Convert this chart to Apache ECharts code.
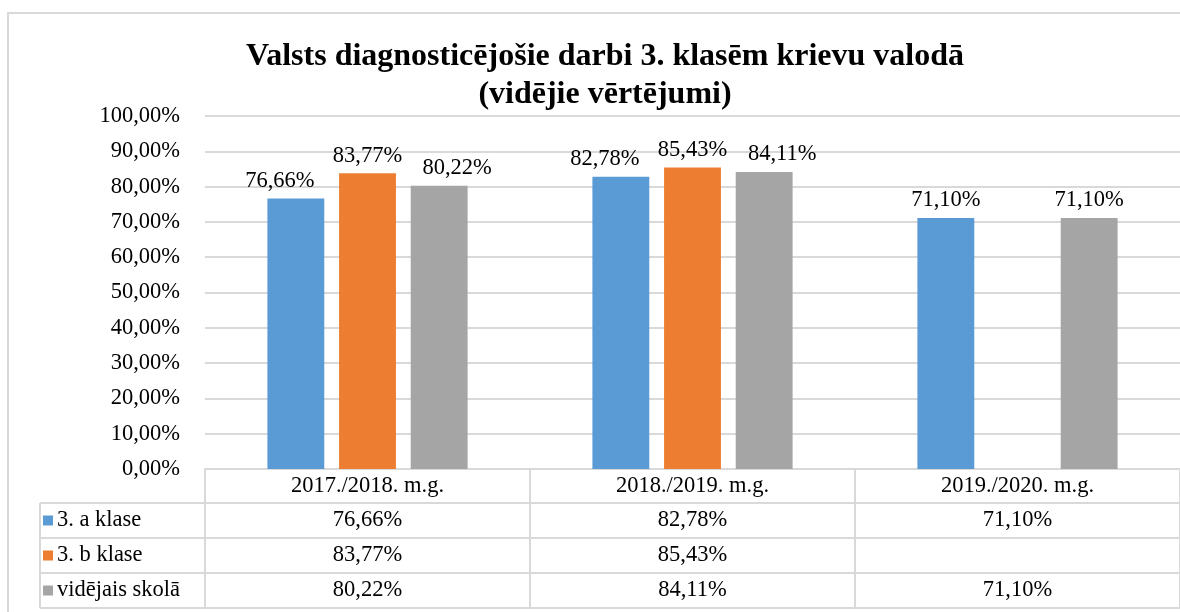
<!DOCTYPE html>
<html>
<head>
<meta charset="utf-8">
<script src="https://cdn.jsdelivr.net/npm/echarts@6/dist/echarts.min.js"></script>
<style>
  html, body { margin: 0; padding: 0; background: #fff; }
  #chart { width: 1180px; height: 612px; }
</style>
</head>
<body>
<div id="chart"></div>
<script>
const categories = ['2017./2018. m.g.', '2018./2019. m.g.', '2019./2020. m.g.']
const seriesNames = ['3. a klase', '3. b klase', 'vidējais skolā']
const classA = [76.66, 82.78, 71.10]
const classB = [83.77, 85.43, null]
const schoolAvg = [80.22, 84.11, 71.10]
const colors = ['#5b9bd5', '#ed7d31', '#a5a5a5']

const FONT = '"Liberation Serif", "Times New Roman", serif'
const GRID_LINE = '#d9d9d9'
const ROW_H = 35
const FS = 22.5

const fmt = v => (v == null ? '' : v.toFixed(2).replace('.', ',') + '%')

const chart = echarts.init(document.getElementById('chart'))

// side labels get pushed apart when all three bars are present (like Excel does)
function barSeries (name, data, color, shift) {
  return {
    name,
    type: 'bar',
    data,
    barWidth: '17.5%',
    barGap: '26%',
    itemStyle: { color },
    label: {
      show: true,
      position: 'top',
      distance: 6,
      color: '#000',
      fontFamily: FONT,
      fontSize: FS,
      formatter: p => fmt(p.value)
    },
    labelLayout: p => (classB[p.dataIndex] != null ? { dx: shift } : {})
  }
}

chart.setOption({
  animation: false,
  title: {
    text: 'Valsts diagnosticējošie darbi 3. klasēm krievu valodā\n(vidējie vērtējumi)',
    left: 600,
    textAlign: 'center',
    top: 33,
    textStyle: { fontFamily: FONT, fontWeight: 'bold', fontSize: 32, lineHeight: 38, color: '#000' }
  },
  grid: { left: 205, right: 0, top: 116, bottom: 143, containLabel: false },
  xAxis: {
    type: 'category',
    data: categories,
    axisLine: { show: true, lineStyle: { color: GRID_LINE, width: 2 } },
    axisTick: { show: true, length: ROW_H * 4 - 1, lineStyle: { color: GRID_LINE, width: 2 } },
    axisLabel: { margin: 6, color: '#000', fontFamily: FONT, fontSize: FS }
  },
  yAxis: {
    type: 'value',
    min: 0,
    max: 100,
    interval: 10,
    axisLine: { show: false },
    axisTick: { show: false },
    axisLabel: { margin: 25, color: '#000', fontFamily: FONT, fontSize: FS, formatter: v => fmt(v) },
    splitLine: { lineStyle: { color: GRID_LINE, width: 2 } }
  },
  series: [
    barSeries(seriesNames[0], classA, colors[0], -16),
    barSeries(seriesNames[1], classB, colors[1], 0),
    barSeries(seriesNames[2], schoolAvg, colors[2], 18)
  ]
})

// data table under the axis
function drawTable () {
  const rows = [classA, classB, schoolAvg]
  const x0 = chart.convertToPixel({ xAxisIndex: 0 }, 0)
  const x1 = chart.convertToPixel({ xAxisIndex: 0 }, 1)
  const band = x1 - x0
  const leftEdge = x0 - band / 2
  const rightEdge = leftEdge + band * categories.length
  const axisY = chart.convertToPixel({ yAxisIndex: 0 }, 0)
  const tableLeft = 40
  const lineStyle = { stroke: GRID_LINE, lineWidth: 2 }
  const els = []

  // outer chart border
  els.push({ type: 'rect', z: -1, shape: { x: 8, y: 13, width: 1300, height: 700 }, style: { fill: null, stroke: GRID_LINE, lineWidth: 2 } })

  for (let r = 0; r < rows.length; r++) {
    const top = axisY + ROW_H * (r + 1) - 1
    const mid = top + ROW_H / 2
    els.push({ type: 'line', shape: { x1: tableLeft, y1: top, x2: rightEdge, y2: top }, style: lineStyle })
    els.push({ type: 'rect', shape: { x: tableLeft + 3, y: mid - 5, width: 10, height: 10 }, style: { fill: colors[r] } })
    els.push({ type: 'text', x: tableLeft + 17, y: mid, style: { text: seriesNames[r], fill: '#000', font: FS + 'px ' + FONT, verticalAlign: 'middle', align: 'left' } })
    rows[r].forEach((v, i) => {
      els.push({ type: 'text', x: chart.convertToPixel({ xAxisIndex: 0 }, i), y: mid, style: { text: fmt(v), fill: '#000', font: FS + 'px ' + FONT, verticalAlign: 'middle', align: 'center' } })
    })
  }
  const bottom = axisY + ROW_H * 4 - 1
  els.push({ type: 'line', shape: { x1: tableLeft, y1: bottom, x2: rightEdge, y2: bottom }, style: lineStyle })
  els.push({ type: 'line', shape: { x1: tableLeft, y1: axisY + ROW_H - 1, x2: tableLeft, y2: bottom }, style: lineStyle })

  chart.setOption({ graphic: els })
}

drawTable()
</script>
</body>
</html>
